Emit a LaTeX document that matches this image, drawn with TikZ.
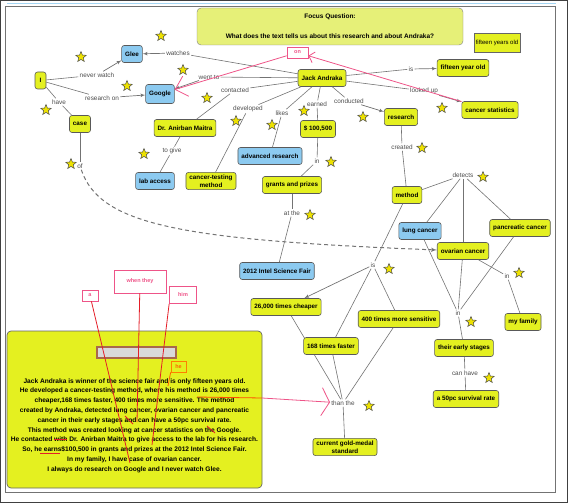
\documentclass[tikz,border=0pt]{standalone}
\usepackage{fontspec}
\setmainfont{Liberation Sans}
\usepackage{tikz}
\usetikzlibrary{arrows,arrows.meta,shapes.geometric,backgrounds}

\definecolor{cyellow}{RGB}{228,240,32}
\definecolor{cblue}{RGB}{140,202,240}
\definecolor{cfocus}{RGB}{230,240,120}
\definecolor{cpink}{RGB}{238,84,136}
\definecolor{cred}{RGB}{228,30,40}
\definecolor{cbrown}{RGB}{168,104,76}

\begin{document}
\begin{tikzpicture}[x=1pt,y=-1pt]
\tikzset{concept/.style = {shape=rectangle,rounded corners=2.5pt,draw=black!65,line width=0.6pt,fill=cyellow,font=\bfseries\fontsize{6.3}{7.6}\selectfont,inner xsep=3.5pt,inner ysep=2.5pt,minimum height=17pt,align=center}}
\tikzset{bconcept/.style = {concept,fill=cblue}}
\tikzset{phrase/.style = {font=\fontsize{6.4}{7.5}\selectfont,text=black!70,inner sep=1.2pt}}
\tikzset{link/.style = {draw=black!55,line width=0.6pt}}
\tikzset{edge/.style = {link,->,> = latex',line width=0.7pt}}
\tikzset{staricon/.style = {star,star points=5,star point ratio=2.3,draw=black!70,fill=yellow!85!olive,minimum size=11pt,inner sep=0pt,line width=0.5pt}}
\tikzset{note/.style = {draw=cpink,line width=0.7pt,text=cpink,font=\bfseries\fontsize{5.5}{6.5}\selectfont,inner sep=1.5pt}}
\tikzset{pinkline/.style = {draw=cpink,line width=0.8pt}}
\tikzset{redline/.style = {draw=cred,line width=0.8pt}}
\useasboundingbox (0,0) rectangle (568,503);
% frame
\draw[black!75,line width=1pt] (0.5,0.5) rectangle (567.5,502.5);
\draw[cblue!80,line width=0.8pt] (7,3.5) -- (556,3.5);
\draw[black!55,line width=1pt] (5,7) rectangle (555,492);
% focus question
\node[draw=black!50,fill=cfocus,rounded corners=4pt,minimum width=266pt,minimum height=37pt,align=center,font=\bfseries\fontsize{6.5}{20}\selectfont] (focus) at (330,26.5) {Focus Question:\\What does the text tells us about this research and about Andraka?};
\node[draw=black!60,fill=cyellow,minimum width=46pt,minimum height=19pt,inner sep=0pt,font=\fontsize{6}{7}\selectfont] (age) at (497,42.5) {fifteen years old};
% concepts
\node[bconcept] (glee) at (132,54) {Glee};
\node[bconcept,minimum height=19pt] (google) at (160,94) {Google};
\node[concept,minimum width=11pt,inner xsep=2pt] (i) at (40.5,80.5) {I};
\node[concept] (case) at (80,124) {case};
\node[concept] (maitra) at (185,128) {Dr. Anirban Maitra};
\node[bconcept] (lab) at (155,181) {lab access};
\node[concept] (testing) at (211,181) {cancer-testing\\method};
\node[bconcept] (advanced) at (270,156) {advanced research};
\node[concept] (money) at (318,129) {\$ 100,500};
\node[concept] (grants) at (292,185) {grants and prizes};
\node[concept] (jack) at (322,78) {Jack Andraka};
\node[concept] (fifteen) at (463,68) {fifteen year old};
\node[concept] (stats) at (490,110) {cancer statistics};
\node[concept] (research) at (401,117) {research};
\node[concept] (method) at (407,195) {method};
\node[bconcept] (lung) at (420,231) {lung cancer};
\node[concept] (ovarian) at (463,251) {ovarian cancer};
\node[concept] (pancreatic) at (520,228) {pancreatic cancer};
\node[bconcept] (intel) at (277,271) {2012 Intel Science Fair};
\node[concept] (cheaper) at (286,307) {26,000 times cheaper};
\node[concept] (sensitive) at (399,319) {400 times more sensitive};
\node[concept] (faster) at (331,346) {168 times faster};
\node[concept] (gold) at (345,447) {current gold-medal\\standard};
\node[concept] (early) at (464,348) {their early stages};
\node[concept] (survival) at (466,399) {a 50pc survival rate};
\node[concept] (family) at (523,322) {my family};
% linking phrases
\node[phrase] (pnever) at (97,75) {never watch};
\node[phrase] (presearch) at (102,98) {research on};
\node[phrase] (phave) at (59,102) {have};
\node[phrase] (pof) at (80,166) {of};
\node[phrase] (pwatches) at (178,53) {watches};
\node[phrase] (pwent) at (209,77) {went to};
\node[phrase] (pcontacted) at (235,90) {contacted};
\node[phrase] (pdeveloped) at (248,109) {developed};
\node[phrase] (plikes) at (282,113) {likes};
\node[phrase] (pearned) at (317,104) {earned};
\node[phrase] (pconducted) at (349,101) {conducted};
\node[phrase] (pis) at (411,69) {is};
\node[phrase] (plooked) at (424,91) {looked up};
\node[phrase] (pgive) at (172,151) {to give};
\node[phrase] (pin) at (317,161) {in};
\node[phrase] (pat) at (292,213) {at the};
\node[phrase] (pcreated) at (402,147) {created};
\node[phrase] (pdetects) at (463,175) {detects};
\node[phrase] (pisb) at (373,265) {is};
\node[phrase] (pinfam) at (507,276) {in};
\node[phrase] (pinearly) at (458,313) {in};
\node[phrase] (pcan) at (465,373) {can have};
\node[phrase] (pthan) at (343,403) {than the};
% stars
\node[staricon] (s1) at (161,36) {};
\node[staricon] (s2) at (81,57) {};
\node[staricon] (s3) at (183,70) {};
\node[staricon] (s4) at (127,86) {};
\node[staricon] (s5) at (46,110) {};
\node[staricon] (s6) at (207,98) {};
\node[staricon] (s7) at (236,121) {};
\node[staricon] (s8) at (272,125) {};
\node[staricon] (s9) at (144,154) {};
\node[staricon] (s10) at (71,164) {};
\node[staricon] (s11) at (304,111) {};
\node[staricon] (s12) at (363,117) {};
\node[staricon] (s13) at (442,108) {};
\node[staricon] (s14) at (422,148) {};
\node[staricon] (s15) at (331,162) {};
\node[staricon] (s16) at (310,215) {};
\node[staricon] (s17) at (483,177) {};
\node[staricon] (s18) at (389,269) {};
\node[staricon] (s19) at (519,273) {};
\node[staricon] (s20) at (471,322) {};
\node[staricon] (s21) at (489,378) {};
\node[staricon] (s22) at (369,406) {};
% edges
\draw[link] (i) -- (pnever);
\draw[edge] (pnever) -- (glee);
\draw[link] (i) -- (presearch);
\draw[edge] (presearch) -- (google);
\draw[link] (i) -- (phave);
\draw[link] (phave) -- (case);
\draw[link] (case) -- (pof);
\draw[link,dashed,line width=1pt,dash pattern=on 4pt off 3pt,->,>=latex'] (pof) .. controls (100,225) and (180,240) .. (ovarian);
\draw[link] (jack) -- (pwatches);
\draw[edge] (pwatches) -- (glee);
\draw[link] (jack) -- (pwent);
\draw[edge] (pwent) -- (google);
\draw[link] (jack) -- (pcontacted);
\draw[link] (pcontacted) -- (maitra);
\draw[link] (jack) -- (pdeveloped);
\draw[link] (pdeveloped) -- (testing);
\draw[link] (jack) -- (plikes);
\draw[link] (plikes) -- (advanced);
\draw[link] (jack) -- (pearned);
\draw[link] (pearned) -- (money);
\draw[link] (jack) -- (pconducted);
\draw[edge] (pconducted) -- (research);
\draw[link] (jack) -- (pis);
\draw[edge] (pis) -- (fifteen);
\draw[link] (jack) -- (plooked);
\draw[edge] (plooked) -- (stats);
\draw[link] (maitra) -- (pgive);
\draw[link] (pgive) -- (lab);
\draw[link] (money) -- (pin);
\draw[link] (pin) -- (grants);
\draw[link] (grants) -- (pat);
\draw[link] (pat) -- (intel);
\draw[link] (research) -- (pcreated);
\draw[link] (pcreated) -- (method);
\draw[link] (method) -- (pdetects);
\draw[link] (pdetects) -- (lung);
\draw[link] (pdetects) -- (ovarian);
\draw[link] (pdetects) -- (pancreatic);
\draw[link] (method) -- (pisb);
\draw[edge] (pisb) -- (cheaper);
\draw[link] (pisb) -- (faster);
\draw[link] (pisb) -- (sensitive);
\begin{scope}[on background layer]
\draw[link] (cheaper) -- (pthan);
\end{scope}
\draw[link] (faster) -- (pthan);
\draw[link] (sensitive) -- (pthan);
\draw[link] (pthan) -- (gold);
\draw[link] (lung) -- (pinearly);
\draw[link] (ovarian) -- (pinearly);
\draw[link] (pancreatic) -- (pinearly);
\draw[link] (pinearly) -- (early);
\draw[link] (ovarian) -- (pinfam);
\draw[link] (pinfam) -- (family);
\draw[link] (early) -- (pcan);
\draw[link] (pcan) -- (survival);
% corrections
\node[note,minimum width=21pt,minimum height=11pt] (on) at (297.5,52.5) {on};
\draw[pinkline,-{Straight Barb[length=5pt,width=11pt]}] (stats) -- (on);
\draw[pinkline,-{Straight Barb[length=11pt,width=21pt]}] (on) -- (google);
% text
\node[draw=black!60,fill=cyellow,rounded corners=4pt,line width=0.7pt,minimum width=255pt,minimum height=157pt] (textbox) at (134.5,409.5) {};
\node[draw=cbrown,line width=2pt,fill=black!15,minimum width=79pt,minimum height=11pt,inner sep=0pt] (bar) at (136,352) {};
\node[align=center,font=\bfseries\fontsize{6.6}{9.8}\selectfont] (story) at (134.5,425.5) {Jack Andraka is winner of the science fair and is only fifteen years old.\\He developed a cancer-testing method, where his method is 26,000 times\\cheaper,168 times faster, 400 times more sensitive. The method\\created by Andraka, detected lung cancer, ovarian cancer and pancreatic\\cancer in their early stages and can have a 50pc survival rate.\\This method was created looking at cancer statistics on the Google.\\He contacted with Dr. Anirban Maitra to give access to the lab for his research.\\So, he earns\$100,500 in grants and prizes at the 2012 Intel Science Fair.\\In my family, I have case of ovarian cancer.\\I always do research on Google and I never watch Glee.};
\node[note,minimum width=16pt,minimum height=11pt] (a) at (90,295.5) {a};
\node[note,minimum width=52pt,minimum height=23pt] (when) at (140,281.5) {when they};
\node[note,minimum width=27pt,minimum height=17pt] (him) at (183,295) {him};
\node[note,draw=orange,text=orange!80!red,minimum width=15pt,minimum height=11pt] (he) at (178.5,366.5) {he};
\coordinate (insA) at (130,463);
\coordinate (insW) at (137,422);
\coordinate (insH) at (152,445);
\coordinate (insHe) at (168,386);
\coordinate (mark) at (197,397);
\coordinate (boxedge) at (262,398);
\draw[redline] (a) -- (insA);
\draw[redline] (when) -- (insW);
\draw[redline] (him.south west) -- (insH);
\draw[redline,draw=orange!70!red] (he.south west) -- (insHe);
\draw[redline,draw=orange!60!red] (mark) -- (boxedge);
\draw[pinkline,-{Straight Barb[length=8pt,width=28pt]}] (boxedge) -- (pthan);
\draw[redline] (125,416) -- (133,424);
\draw[redline] (207,426) -- (215,433);
\draw[redline] (54,439) -- (67,439);
\draw[redline] (40,453) -- (60,453);
\end{tikzpicture}
\end{document}
